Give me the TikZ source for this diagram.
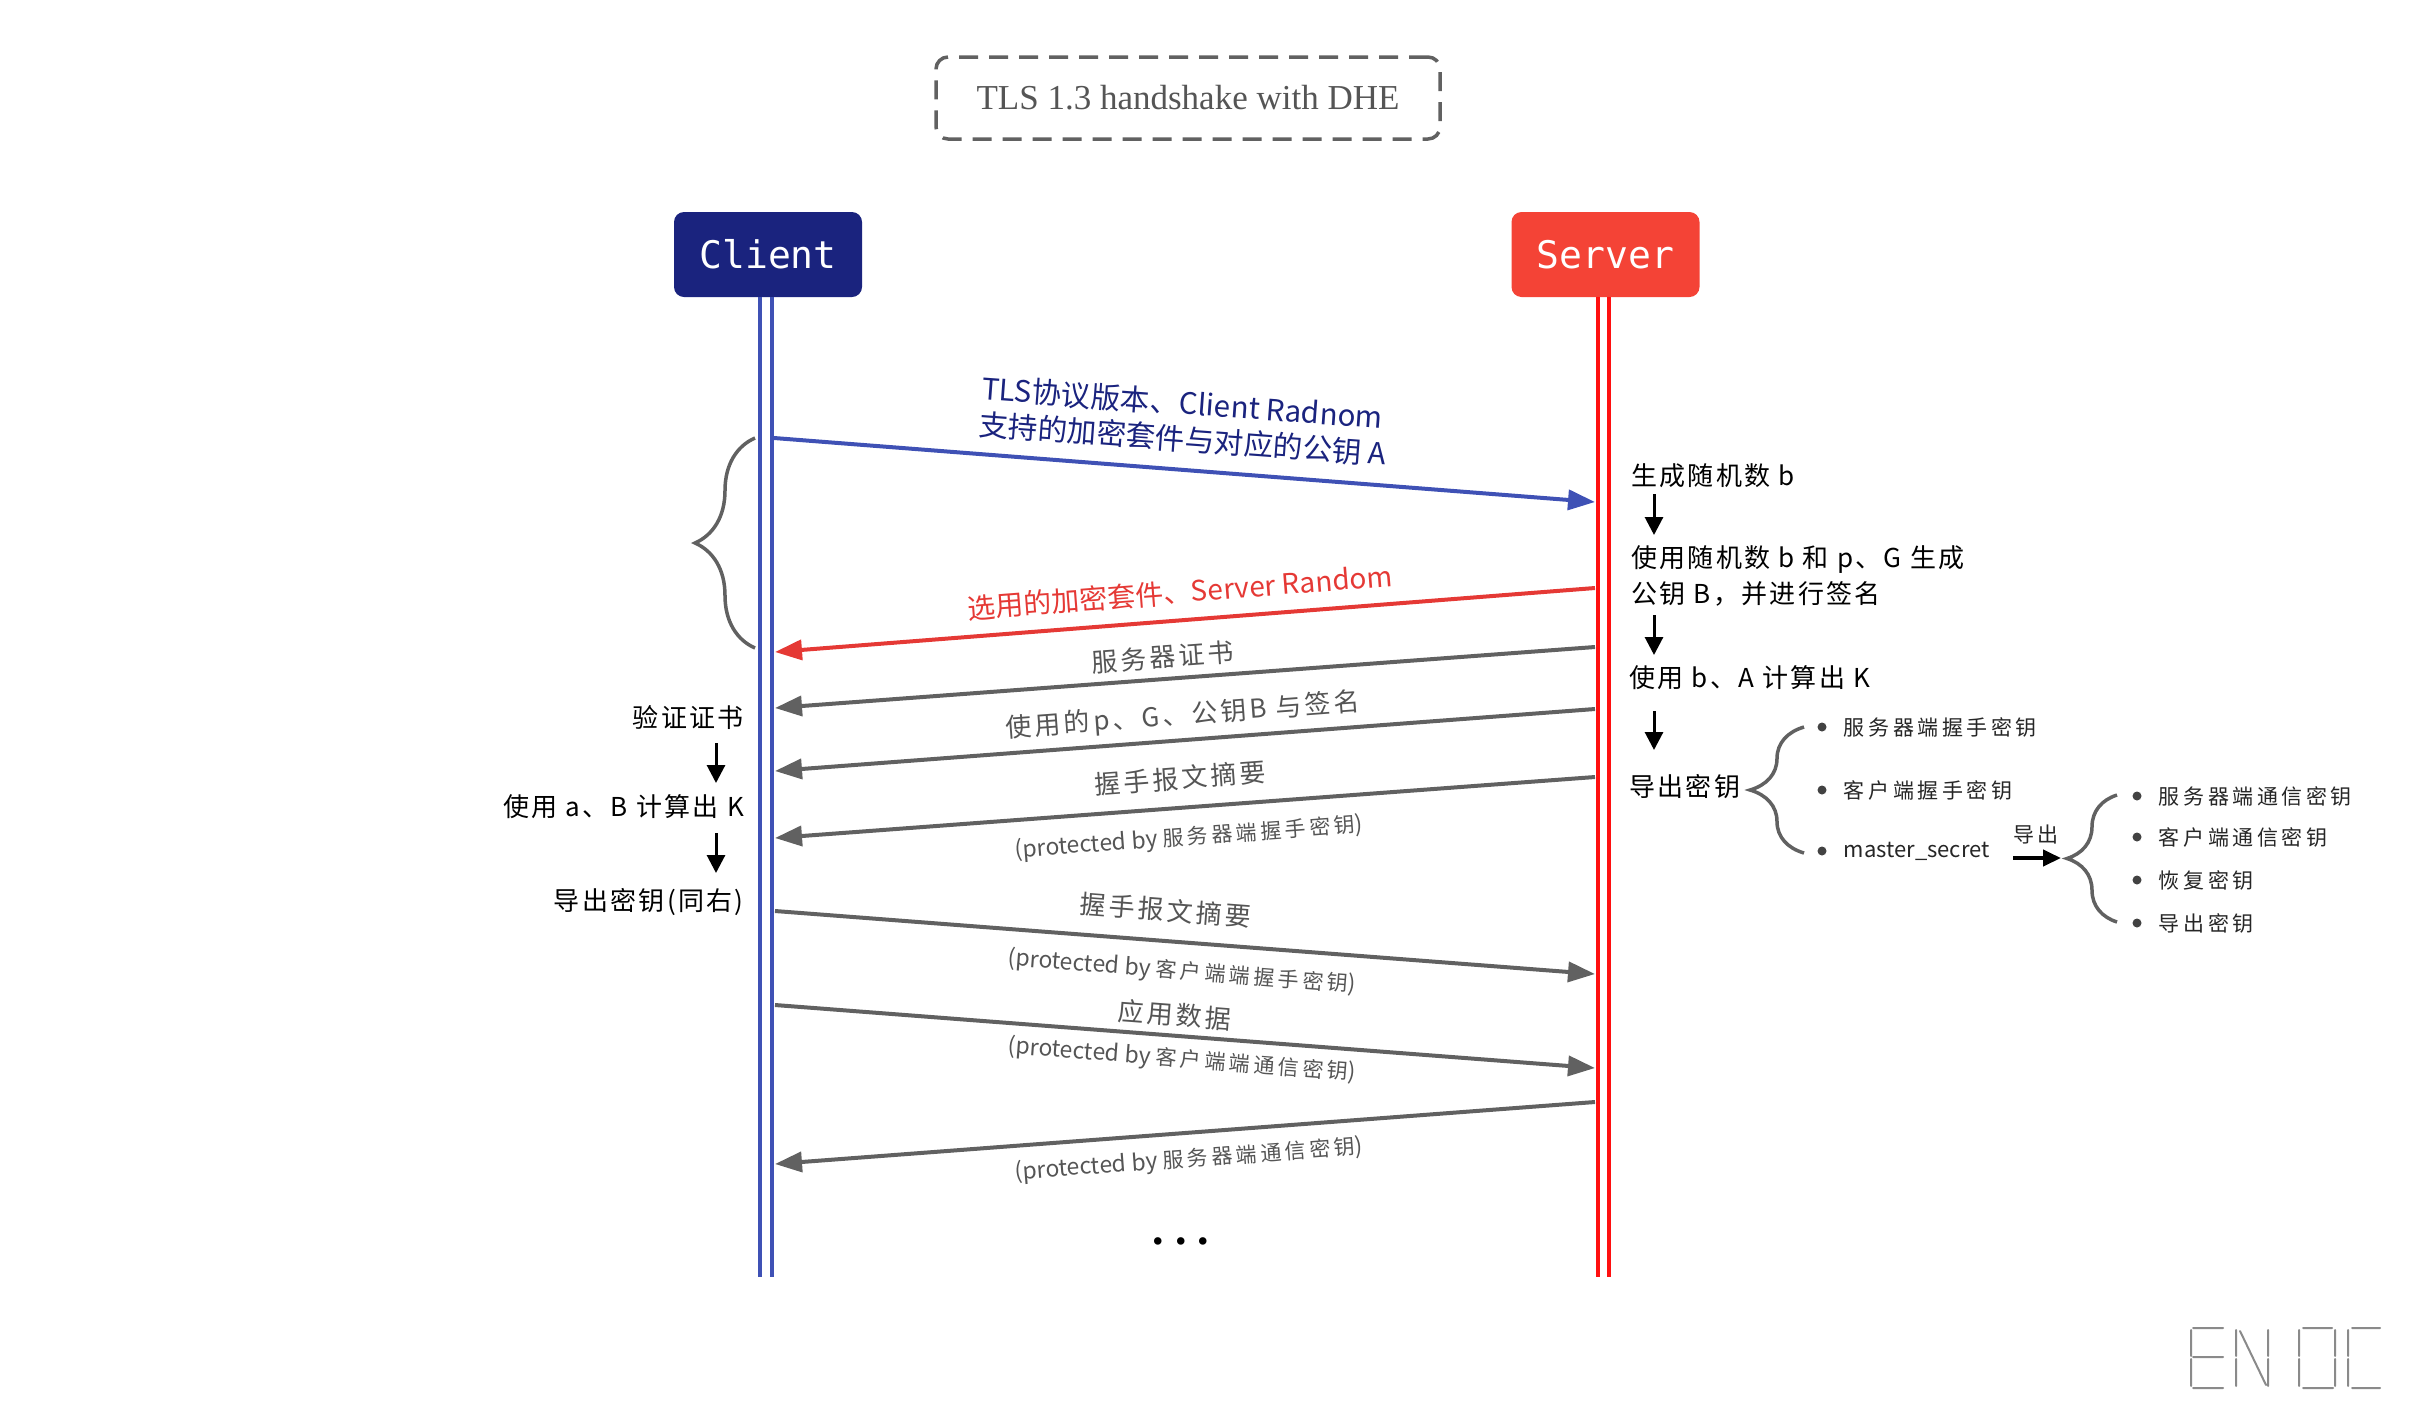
\documentclass[tikz,border=0pt]{standalone}
\usepackage{fontspec}
\setmainfont{Liberation Serif}
\newfontfamily\cjk{Noto Sans CJK SC}
\newfontfamily\cjknote[LetterSpace=9]{Noto Sans CJK SC}
\newfontfamily\cjkmsg[LetterSpace=12]{Noto Sans CJK SC}
\newfontfamily\cjksmall[LetterSpace=17]{Noto Sans CJK SC}
\newfontfamily\monofnt{DejaVu Sans Mono}
\usetikzlibrary{arrows.meta,decorations.pathreplacing,positioning}
\definecolor{clientnavy}{HTML}{1A237E}
\definecolor{serverred}{HTML}{F44336}
\definecolor{lifeblue}{HTML}{3F51B5}
\definecolor{lifered}{HTML}{FF1010}
\definecolor{msgred}{HTML}{E53935}
\definecolor{msggray}{HTML}{616161}
\definecolor{lblgray}{HTML}{555555}
\definecolor{dotgray}{HTML}{424242}
\definecolor{logogray}{HTML}{8A8A8A}
\newcommand{\protby}[1]{{\cjk\fontsize{23}{26}\selectfont (protected by }#1{\cjk\fontsize{23}{26}\selectfont )}}

\begin{document}
\begin{tikzpicture}[x=1pt,y=-1pt,
    party/.style={rounded corners=10pt,minimum width=188pt,minimum height=85pt,inner sep=0pt,text=white,font=\monofnt\fontsize{38}{44}\selectfont},
    life/.style={line width=4pt},
    msg/.style={line width=4pt,-{Triangle[length=27pt,width=20pt]}},
    msglbl/.style={inner sep=0pt,text=lblgray,font=\cjkmsg\fontsize{26}{32}\selectfont},
    protlbl/.style={inner sep=0pt,text=lblgray,font=\cjksmall\fontsize{21}{26}\selectfont},
    notetext/.style={inner sep=2pt,align=left,font=\cjknote\fontsize{26}{36}\selectfont},
    flow/.style={line width=3pt,-{Triangle[length=18pt,width=18pt]}},
    curly/.style={decorate,decoration={brace,amplitude=#1},line width=3.5pt,draw=msggray},
    bulletdot/.style={circle,fill=dotgray,inner sep=0pt,minimum size=9pt},
    itemtext/.style={inner sep=0pt,text=black!85,font=\cjksmall\fontsize{21}{26}\selectfont}
  ]
  \useasboundingbox (0,0) rectangle (2410,1417);

  % title and the two parties
  \node[draw=msggray,line width=3.5pt,dash pattern=on 19pt off 11pt,rounded corners=12pt,minimum width=504pt,minimum height=82pt,text=lblgray,font=\fontsize{35}{42}\selectfont] (title) at (1188,98) {TLS 1.3 handshake with DHE};
  \node[party,fill=clientnavy] (client) at (768,254.5) {Client};
  \node[party,fill=serverred] (server) at (1605.5,254.5) {Server};
  \draw[life,draw=lifeblue] ([xshift=-8pt]client.south) -- ++(0,980);
  \draw[life,draw=lifeblue] ([xshift=3.5pt]client.south) -- ++(0,980);
  \draw[life,draw=lifered] ([xshift=-8pt]server.south) -- ++(0,980);
  \draw[life,draw=lifered] ([xshift=3.5pt]server.south) -- ++(0,980);

  % message ends on the lifelines
  \coordinate (c1) at (774,438);  \coordinate (s1) at (1595,502);
  \coordinate (s2) at (1595,588); \coordinate (c2) at (775,652);
  \coordinate (s3) at (1595,647); \coordinate (c3) at (775,708);
  \coordinate (s4) at (1595,709); \coordinate (c4) at (775,771);
  \coordinate (s5) at (1595,777); \coordinate (c5) at (775,838);
  \coordinate (c6) at (775,911);  \coordinate (s6) at (1595,974);
  \coordinate (c7) at (775,1005); \coordinate (s7) at (1595,1068);
  \coordinate (s8) at (1595,1102); \coordinate (c8) at (775,1164);

  \draw[msg,draw=lifeblue] (c1) -- (s1);
  \draw[msg,draw=msgred] (s2) -- (c2);
  \draw[msg,draw=msggray] (s3) -- (c3);
  \draw[msg,draw=msggray] (s4) -- (c4);
  \draw[msg,draw=msggray] (s5) -- (c5);
  \draw[msg,draw=msggray] (c6) -- (s6);
  \draw[msg,draw=msggray] (c7) -- (s7);
  \draw[msg,draw=msggray] (s8) -- (c8);

  \node[inner sep=0pt,align=left,text=clientnavy,rotate=-4.2,font=\cjk\fontsize{29.5}{36}\selectfont] (hello) at (1184,421) {TLS协议版本、Client Radnom\\支持的加密套件与对应的公钥 A};
  \node[inner sep=0pt,text=msgred,rotate=4.4,font=\cjk\fontsize{28}{34}\selectfont] (shello) at (1180,592) {选用的加密套件、Server Random};
  \node[msglbl,rotate=4.3] (cert) at (1163,657) {服务器证书};
  \node[msglbl,rotate=4.3] (kex) at (1183,716) {使用的p、G、公钥B 与签名};
  \node[msglbl,rotate=4.3] (fin1) at (1180,778) {握手报文摘要};
  \node[protlbl,rotate=4.3] (fin1p) at (1189,838) {\protby{服务器端握手密钥}};
  \node[msglbl,rotate=-4.4] (fin2) at (1166,910) {握手报文摘要};
  \node[protlbl,rotate=-4.4] (fin2p) at (1182,972) {\protby{客户端端握手密钥}};
  \node[msglbl,rotate=-4.4] (app1) at (1175,1015) {应用数据};
  \node[protlbl,rotate=-4.4] (app1p) at (1182,1060) {\protby{客户端端通信密钥}};
  \node[protlbl,rotate=4.3] (app2p) at (1189,1160) {\protby{服务器端通信密钥}};
  \node[font=\bfseries\fontsize{46}{48}\selectfont] (more) at (1181,1241) {.\hspace{11pt}.\hspace{11pt}.};

  % client side
  \draw[curly=60pt] (755,648) -- (755,438);
  \node[notetext,anchor=east] (cn1) at (746,718) {验证证书};
  \node[notetext,anchor=east] (cn2) at (746,807) {使用 a、B 计算出 K};
  \node[notetext,anchor=east] (cn3) at (746,902) {导出密钥(同右)};
  \coordinate (ca1) at (716,743); \coordinate (cb1) at (716,783);
  \coordinate (ca2) at (716,833); \coordinate (cb2) at (716,873);
  \draw[flow] (ca1) -- (cb1);
  \draw[flow] (ca2) -- (cb2);

  % server side
  \node[notetext,anchor=west] (sn1) at (1629,476) {生成随机数 b};
  \node[notetext,anchor=west] (sn2) at (1629,576) {使用随机数 b 和 p、G 生成\\公钥 B，并进行签名};
  \node[notetext,anchor=west] (sn3) at (1627,678) {使用 b、A 计算出 K};
  \node[notetext,anchor=west] (sn4) at (1627,787) {导出密钥};
  \coordinate (sa1) at (1654,494); \coordinate (sb1) at (1654,535);
  \coordinate (sa2) at (1654,615); \coordinate (sb2) at (1654,655);
  \coordinate (sa3) at (1654,711); \coordinate (sb3) at (1654,750);
  \draw[flow] (sa1) -- (sb1);
  \draw[flow] (sa2) -- (sb2);
  \draw[flow] (sa3) -- (sb3);

  \draw[curly=54pt] (1804,853) -- (1804,727);
  \foreach \yy/\t [count=\i] in {727/服务器端握手密钥,790/客户端握手密钥,851/{\cjk\fontsize{22}{26}\selectfont master\_secret}} {
    \node[bulletdot] (kd\i) at (1822,\yy) {};
    \node[itemtext,right=17pt of kd\i] (k\i) {\t};
  }
  \coordinate (ex1) at (2013,858);
  \coordinate (ex2) at (2061,858);
  \draw[line width=4pt,-{Triangle[length=18pt,width=16pt]}] (ex1) -- (ex2);
  \node[itemtext] (exl) at (2036,834) {导出};
  \draw[curly=50pt] (2117,922) -- (2117,795);
  \foreach \yy/\t [count=\i] in {796/服务器端通信密钥,837/客户端通信密钥,880/恢复密钥,923/导出密钥} {
    \node[bulletdot] (td\i) at (2137,\yy) {};
    \node[itemtext,right=17pt of td\i] (t\i) {\t};
  }

  % logo
  \draw[logogray,line width=2pt,line cap=round]
    (2191,1330) -- (2191,1356) (2191,1359) -- (2191,1386)
    (2193,1328) -- (2223,1328) (2193,1357) -- (2223,1357) (2193,1388) -- (2223,1388)
    (2236,1330) -- (2236,1356) (2236,1359) -- (2236,1386)
    (2240,1331) -- (2266,1385)
    (2268,1330) -- (2268,1356) (2268,1359) -- (2268,1386)
    (2299,1330) -- (2299,1356) (2299,1359) -- (2299,1386)
    (2303,1328) -- (2332,1328) (2303,1388) -- (2333,1388)
    (2335,1330) -- (2335,1356) (2335,1359) -- (2335,1386)
    (2348,1330) -- (2348,1356) (2348,1359) -- (2348,1386)
    (2352,1328) -- (2380,1328) (2352,1388) -- (2380,1388);
\end{tikzpicture}
\end{document}
